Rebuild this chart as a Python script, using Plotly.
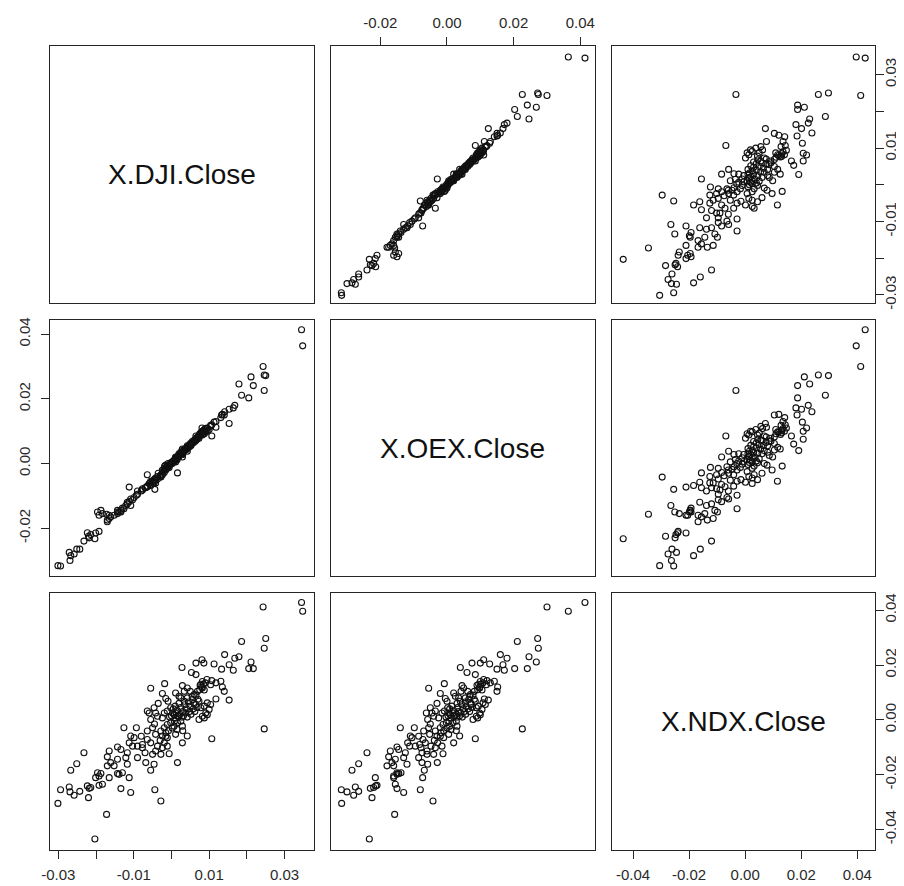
import plotly.graph_objects as go

names = ["X.DJI.Close", "X.OEX.Close", "X.NDX.Close"]

DJI = [
    0.0243, 0.0345, 0.0348, 0.0186, 0.0250, 0.0246, 0.0246, 0.0211, 0.0205, 0.0217,
    0.0179, 0.0168, 0.0153, 0.0164, 0.0141, 0.0133, 0.0113, 0.0086, 0.0081, 0.0065,
    0.0028, 0.0053, 0.0065, -0.0018, -0.0055, 0.0076, 0.0082, 0.0087, 0.0094, 0.0107,
    0.0104, 0.0118, 0.0131, 0.0135, 0.0140, 0.0153, 0.0118, 0.0029, 0.0042, 0.0034,
    0.0050, 0.0060, 0.0069, -0.0024, -0.0015, -0.0009, 0.0011, 0.0020, 0.0025, 0.0034,
    0.0042, 0.0056, 0.0065, 0.0073, 0.0078, 0.0087, 0.0095, 0.0104, 0.0100, 0.0091,
    0.0082, 0.0073, 0.0087, 0.0095, -0.0064, -0.0059, -0.0046, -0.0042, -0.0055, -0.0037,
    -0.0024, -0.0019, -0.0011, -0.0002, 0.0003, 0.0007, 0.0011, 0.0020, 0.0025, 0.0029,
    0.0016, 0.0007, -0.0002, -0.0011, -0.0019, -0.0015, -0.0126, -0.0093, -0.0064, -0.0050,
    -0.0042, -0.0028, -0.0024, -0.0011, 0.0011, 0.0042, 0.0029, 0.0107, -0.0108, -0.0099,
    -0.0112, -0.0103, -0.0090, -0.0077, -0.0077, -0.0064, -0.0055, -0.0037, -0.0042, -0.0024,
    -0.0019, -0.0011, -0.0006, -0.0028, 0.0016, -0.0232, -0.0165, -0.0170, -0.0143, -0.0134,
    -0.0143, -0.0161, -0.0170, -0.0152, -0.0117, -0.0121, -0.0090, -0.0117, -0.0068, -0.0055,
    -0.0046, -0.0050, -0.0251, -0.0267, -0.0196, -0.0187, -0.0192, -0.0201, -0.0165, -0.0143,
    -0.0139, -0.0130, -0.0112, -0.0183, -0.0192, -0.0294, -0.0271, -0.0269, -0.0258, -0.0243,
    -0.0223, -0.0218, -0.0214, -0.0134, -0.0108, -0.0044, -0.0220, -0.0028, -0.0301, -0.0172,
    -0.0203,
    0.0005, 0.0010, 0.0015, 0.0020, 0.0025, 0.0030, 0.0035, 0.0040, 0.0045, 0.0050,
    0.0055, 0.0060, 0.0065, 0.0070, 0.0075, 0.0080, 0.0085, 0.0090, 0.0078, 0.0082,
    0.0000, -0.0005, 0.0008, 0.0012, 0.0018, 0.0022, 0.0028, 0.0032, 0.0038, 0.0042,
    0.0048, 0.0052, 0.0058, 0.0062, 0.0068, -0.0008, 0.0002, 0.0015, -0.0030, -0.0015,
    0.0030, -0.0045, -0.0070, -0.0080, -0.0035,
]

OEX = [
    0.0300, 0.0414, 0.0364, 0.0211, 0.0272, 0.0274, 0.0226, 0.0268, 0.0203, 0.0241,
    0.0246, 0.0180, 0.0168, 0.0172, 0.0160, 0.0150, 0.0128, 0.0100, 0.0110, 0.0075,
    0.0040, 0.0060, 0.0085, -0.0008, -0.0055, 0.0090, 0.0098, 0.0105, 0.0110, 0.0120,
    0.0118, 0.0130, 0.0142, 0.0152, 0.0150, 0.0124, 0.0112, 0.0045, 0.0050, 0.0042,
    0.0062, 0.0070, 0.0082, -0.0020, -0.0005, 0.0000, 0.0020, 0.0025, 0.0035, 0.0040,
    0.0055, 0.0065, 0.0072, 0.0085, 0.0088, 0.0094, 0.0108, 0.0115, 0.0105, 0.0098,
    0.0088, 0.0078, 0.0092, 0.0100, -0.0035, -0.0062, -0.0050, -0.0045, -0.0058, -0.0040,
    -0.0025, -0.0015, -0.0008, 0.0002, 0.0005, 0.0010, 0.0012, 0.0022, 0.0028, 0.0030,
    0.0018, 0.0008, -0.0002, -0.0012, -0.0020, -0.0018, -0.0140, -0.0098, -0.0070, -0.0055,
    -0.0052, -0.0035, -0.0030, -0.0010, 0.0005, 0.0038, 0.0020, 0.0085, -0.0110, -0.0105,
    -0.0118, -0.0112, -0.0095, -0.0082, -0.0078, -0.0072, -0.0065, -0.0048, -0.0060, -0.0035,
    -0.0028, -0.0015, -0.0012, -0.0040, -0.0029, -0.0240, -0.0170, -0.0175, -0.0150, -0.0145,
    -0.0155, -0.0165, -0.0180, -0.0160, -0.0125, -0.0130, -0.0085, -0.0120, -0.0075, -0.0068,
    -0.0058, -0.0060, -0.0265, -0.0285, -0.0150, -0.0145, -0.0160, -0.0215, -0.0160, -0.0145,
    -0.0150, -0.0138, -0.0073, -0.0155, -0.0210, -0.0317, -0.0275, -0.0300, -0.0280, -0.0265,
    -0.0214, -0.0230, -0.0220, -0.0150, -0.0130, -0.0080, -0.0225, -0.0042, -0.0316, -0.0157,
    -0.0233,
    0.0008, 0.0015, 0.0020, 0.0030, 0.0032, 0.0035, 0.0045, 0.0048, 0.0055, 0.0058,
    0.0068, 0.0072, 0.0078, 0.0082, 0.0092, 0.0098, 0.0102, 0.0108, 0.0095, 0.0100,
    0.0003, -0.0003, 0.0006, 0.0018, 0.0022, 0.0028, 0.0030, 0.0038, 0.0042, 0.0046,
    0.0052, 0.0056, 0.0064, 0.0068, 0.0075, -0.0010, 0.0000, 0.0012, -0.0038, -0.0020,
    0.0028, -0.0050, -0.0075, -0.0085, -0.0030,
]

NDX = [
    0.0412, 0.0428, 0.0396, 0.0286, 0.0297, 0.0261, -0.0033, 0.0211, 0.0187, 0.0187,
    0.0230, 0.0225, 0.0201, 0.0181, 0.0238, 0.0185, 0.0204, 0.0207, 0.0219, 0.0207,
    0.0191, 0.0173, 0.0165, 0.0132, 0.0115, 0.0126, 0.0116, 0.0109, 0.0147, 0.0143,
    0.0128, 0.0135, 0.0141, 0.0120, 0.0104, 0.0072, 0.0076, 0.0125, 0.0116, 0.0104,
    0.0104, 0.0092, 0.0104, 0.0096, 0.0078, 0.0068, 0.0098, 0.0086, 0.0080, 0.0068,
    0.0080, 0.0074, 0.0056, 0.0068, 0.0044, 0.0050, 0.0062, 0.0056, 0.0038, 0.0025,
    0.0013, 0.0001, 0.0007, 0.0019, 0.0032, 0.0025, 0.0044, 0.0025, 0.0001, 0.0013,
    0.0007, 0.0025, 0.0032, 0.0044, 0.0025, 0.0019, 0.0007, 0.0013, -0.0005, -0.0023,
    -0.0011, -0.0023, -0.0011, -0.0017, -0.0029, -0.0047, -0.0029, -0.0029, -0.0041, -0.0029,
    -0.0053, -0.0041, -0.0059, -0.0065, -0.0053, -0.0059, -0.0084, -0.0069, -0.0059, -0.0065,
    -0.0084, -0.0096, -0.0096, -0.0090, -0.0102, -0.0072, -0.0084, -0.0096, -0.0114, -0.0102,
    -0.0084, -0.0096, -0.0124, -0.0126, -0.0156, -0.0120, -0.0114, -0.0135, -0.0099, -0.0108,
    -0.0144, -0.0156, -0.0168, -0.0168, -0.0120, -0.0138, -0.0138, -0.0162, -0.0156, -0.0184,
    -0.0162, -0.0126, -0.0160, -0.0184, -0.0193, -0.0196, -0.0205, -0.0211, -0.0211, -0.0196,
    -0.0199, -0.0193, -0.0211, -0.0235, -0.0239, -0.0255, -0.0245, -0.0263, -0.0275, -0.0261,
    -0.0241, -0.0250, -0.0247, -0.0251, -0.0265, -0.0255, -0.0284, -0.0296, -0.0305, -0.0345,
    -0.0435,
    0.0040, 0.0050, 0.0035, 0.0060, 0.0045, 0.0030, 0.0055, 0.0040, 0.0065, 0.0050,
    0.0085, 0.0060, 0.0090, 0.0075, 0.0110, 0.0120, 0.0130, 0.0135, 0.0130, 0.0140,
    0.0015, 0.0010, -0.0005, 0.0025, 0.0015, 0.0020, 0.0010, 0.0015, 0.0025, 0.0010,
    0.0030, 0.0020, 0.0040, 0.0030, 0.0045, -0.0040, -0.0030, -0.0035, -0.0075, -0.0060,
    -0.0040, -0.0015, -0.0120, -0.0060, 0.0060,
]

assert len(DJI) == len(OEX) == len(NDX)
data = [DJI, OEX, NDX]

# axis ranges (R pairs: data range + 4%)
ranges = [[-0.0322, 0.0378], [-0.0348, 0.0444], [-0.0475, 0.0463]]

dji_tickvals = [-0.03, -0.02, -0.01, 0.0, 0.01, 0.02, 0.03]
dji_ticktext = ["-0.03", "", "-0.01", "", "0.01", "", "0.03"]
oex_tickvals = [-0.02, 0.0, 0.02, 0.04]
oex_ticktext = ["-0.02", "0.00", "0.02", "0.04"]
ndx_tickvals = [-0.04, -0.02, 0.0, 0.02, 0.04]
ndx_ticktext = ["-0.04", "-0.02", "0.00", "0.02", "0.04"]
ticks = [(dji_tickvals, dji_ticktext), (oex_tickvals, oex_ticktext), (ndx_tickvals, ndx_ticktext)]

col_domains = [[0.0, 0.32], [0.3406, 0.6606], [0.6812, 1.0]]
row_domains = [[0.6803, 1.0], [0.3408, 0.6592], [0.0, 0.3197]]

LINE = "#262626"
TICKFONT = dict(family="Liberation Sans, Arial, sans-serif", size=15, color="#2a2a2a")

fig = go.Figure()
layout = {}
annotations = []

for r in range(3):
    for c in range(3):
        k = r * 3 + c + 1
        xs = "x" if k == 1 else f"x{k}"
        ys = "y" if k == 1 else f"y{k}"
        xa = dict(domain=col_domains[c], range=ranges[c], anchor=ys,
                  showline=True, mirror=True, linecolor=LINE, linewidth=1.4,
                  showgrid=False, zeroline=False, showticklabels=False, ticks="",
                  fixedrange=True, automargin=False)
        ya = dict(domain=row_domains[r], range=ranges[r], anchor=xs,
                  showline=True, mirror=True, linecolor=LINE, linewidth=1.4,
                  showgrid=False, zeroline=False, showticklabels=False, ticks="",
                  fixedrange=True, automargin=False)
        # x ticks: col1 & col3 at bottom (row 3), col2 at top (row 1)
        if (r == 2 and c in (0, 2)) or (r == 0 and c == 1):
            tv, tt = ticks[c]
            xa.update(ticks="outside", ticklen=8, tickwidth=1.2, tickcolor=LINE,
                      tickvals=tv, ticktext=tt, showticklabels=True,
                      tickfont=TICKFONT, side="bottom" if r == 2 else "top",
                      ticklabelstandoff=3)
        # y ticks: row1 & row3 at right (col 3), row2 at left (col 1)
        if (c == 2 and r in (0, 2)) or (c == 0 and r == 1):
            tv, tt = ticks[r]
            ya.update(ticks="outside", ticklen=8, tickwidth=1.2, tickcolor=LINE,
                      tickvals=tv, ticktext=tt, showticklabels=True,
                      tickfont=TICKFONT, side="right" if c == 2 else "left",
                      tickangle=-90, ticklabelstandoff=-6 if c == 2 else 5)
        layout["xaxis" if k == 1 else f"xaxis{k}"] = xa
        layout["yaxis" if k == 1 else f"yaxis{k}"] = ya

        if r == c:
            # empty trace so the panel box is drawn
            fig.add_trace(go.Scatter(x=[None], y=[None], mode="markers", xaxis=xs, yaxis=ys,
                                     showlegend=False, hoverinfo="skip"))
            annotations.append(dict(text=names[r], xref=f"{xs} domain", yref=f"{ys} domain",
                                    x=0.5, y=0.5, showarrow=False,
                                    font=dict(family="Liberation Sans, Arial, sans-serif",
                                              size=28, color="#111")))
        else:
            fig.add_trace(go.Scatter(
                x=data[c], y=data[r], mode="markers", xaxis=xs, yaxis=ys,
                marker=dict(symbol="circle-open", size=6, color="#111",
                            line=dict(width=1.1, color="#111")),
                showlegend=False, hoverinfo="skip"))

fig.update_layout(**layout)
fig.update_layout(
    width=904, height=886,
    margin=dict(l=42, r=37, t=38, b=44, autoexpand=False),
    paper_bgcolor="white", plot_bgcolor="white",
    annotations=annotations,
    showlegend=False,
)

fig.write_html("out.html")
